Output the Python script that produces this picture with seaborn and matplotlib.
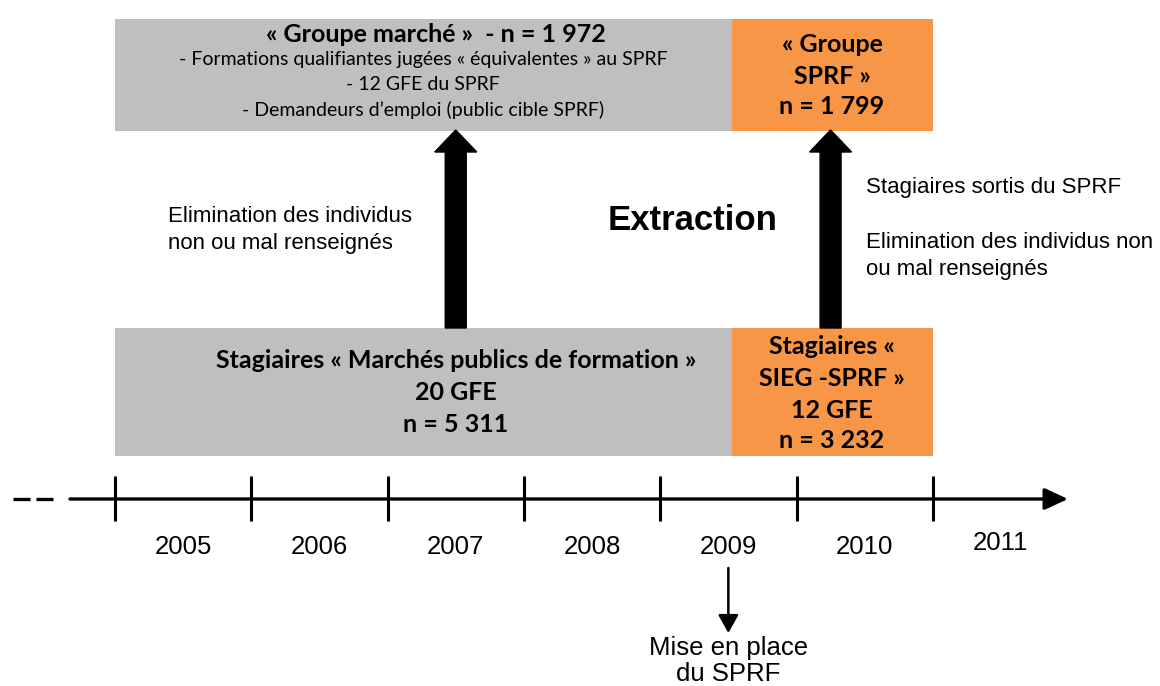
"""
Timeline diagram: sample construction for the SPRF evaluation
"""
import matplotlib
matplotlib.use('Agg')
import matplotlib.pyplot as plt
from matplotlib.patches import FancyArrow
import seaborn as sns

sns.set_theme(style='white')
plt.rcParams['font.family'] = ['Liberation Sans', 'DejaVu Sans']
plt.rcParams['text.color'] = 'black'

# Data
years = [2005, 2006, 2007, 2008, 2009, 2010, 2011]
year_bounds = [2005, 2006, 2007, 2008, 2009, 2010, 2011]
period_starts = [2005, 2009.53]
period_ends = [2009.53, 2011]
period_colors = ['#bfbfbf', '#f79646']
sprf_launch = 2009.5
market_arrow_year = 2007.5
sprf_arrow_year = 2010.25

top_market_title = '« Groupe marché »  - n = 1 972'
top_market_lines = ['- Formations qualifiantes jugées « équivalentes » au SPRF',
                    '- 12 GFE du SPRF',
                    '- Demandeurs d\u2019emploi (public cible SPRF)']
top_sprf_lines = ['« Groupe', 'SPRF »', 'n = 1 799']
bottom_market_lines = ['Stagiaires « Marchés publics de formation »', '20 GFE', 'n = 5 311']
bottom_sprf_lines = ['Stagiaires «', 'SIEG -SPRF »', '12 GFE', 'n = 3 232']
left_note = ['Elimination des individus', 'non ou mal renseignés']
right_note = ['Stagiaires sortis du SPRF', '', 'Elimination des individus non',
              'ou mal renseignés']
launch_note = ['Mise en place', 'du SPRF']

# Layout: x in years, y in pixel rows (top = 0)
PX_PER_YEAR = 136.3
X0_PX = 115


def xp(px):
    return 2005 + (px - X0_PX) / PX_PER_YEAR


fig = plt.figure(figsize=(11.6, 6.86), dpi=100)
ax = fig.add_axes([0, 0, 1, 1])
ax.set_xlim(xp(0), xp(1160))
ax.set_ylim(686, 0)
ax.axis('off')

calibri = ['Lato', 'DejaVu Sans']

# Boxes (top row and bottom row)
widths = [e - s for s, e in zip(period_starts, period_ends)]
ax.barh([75, 75], widths, left=period_starts, height=112, color=period_colors,
        edgecolor='none', zorder=1)
ax.barh([392, 392], widths, left=period_starts, height=128, color=period_colors,
        edgecolor='none', zorder=1)

# Box texts
ax.text(xp(436), 34, top_market_title, ha='center', va='center', fontsize=18,
        fontweight='bold', family=calibri)
for txt, y in zip(top_market_lines, [60, 85, 110]):
    ax.text(xp(423), y, txt, ha='center', va='center', fontsize=14, family=calibri)
for txt, y in zip(top_sprf_lines, [45, 76, 106]):
    ax.text(xp(832), y, txt, ha='center', va='center', fontsize=18,
            fontweight='bold', family=calibri)
for txt, y in zip(bottom_market_lines, [361, 393, 425]):
    ax.text(market_arrow_year, y, txt, ha='center', va='center', fontsize=18,
            fontweight='bold', family=calibri)
for txt, y in zip(bottom_sprf_lines, [347, 379, 410, 441]):
    ax.text(xp(832), y, txt, ha='center', va='center', fontsize=18,
            fontweight='bold', family=calibri)

# Thick upward arrows
shaft_w = 21 / PX_PER_YEAR
head_w = 42 / PX_PER_YEAR
for xa in [market_arrow_year, sprf_arrow_year]:
    ax.add_patch(FancyArrow(xa, 328, 0, -198, width=shaft_w, head_width=head_w,
                            head_length=22, length_includes_head=True,
                            color='black', zorder=3))

# Side notes
for txt, y in zip(left_note, [216, 243]):
    ax.text(xp(168), y, txt, ha='left', va='center', fontsize=16)
for txt, y in zip(right_note, [188, 215, 242, 269]):
    ax.text(xp(866), y, txt, ha='left', va='center', fontsize=16)
ax.text(xp(693), 221, 'Extraction', ha='center', va='center', fontsize=25,
        fontweight='bold')

# Timeline
axis_y = 499
ax.plot([xp(13), xp(30)], [axis_y, axis_y], color='black', lw=2.4, solid_capstyle='butt')
ax.plot([xp(36), xp(53)], [axis_y, axis_y], color='black', lw=2.4, solid_capstyle='butt')
ax.annotate('', xy=(xp(1068), axis_y), xytext=(xp(70), axis_y),
            arrowprops=dict(arrowstyle='-|>,head_length=0.65,head_width=0.3',
                            mutation_scale=22, lw=2.4, color='black',
                            shrinkA=0, shrinkB=0))
ax.vlines(year_bounds, 476, 521, color='black', lw=2.2)
for yr in years:
    ax.text(yr + 0.5, 543 if yr == 2011 else 547, str(yr), ha='center',
            va='center', fontsize=18.5)

# SPRF launch
ax.annotate('', xy=(sprf_launch, 633), xytext=(sprf_launch, 568),
            arrowprops=dict(arrowstyle='-|>,head_length=0.5,head_width=0.28',
                            mutation_scale=22, lw=1.8, color='black',
                            shrinkA=0, shrinkB=0))
for txt, y in zip(launch_note, [655, 681]):
    ax.text(sprf_launch, y, txt, ha='center', va='baseline', fontsize=18.5)

plt.savefig('out.png', dpi=100)
plt.close()
